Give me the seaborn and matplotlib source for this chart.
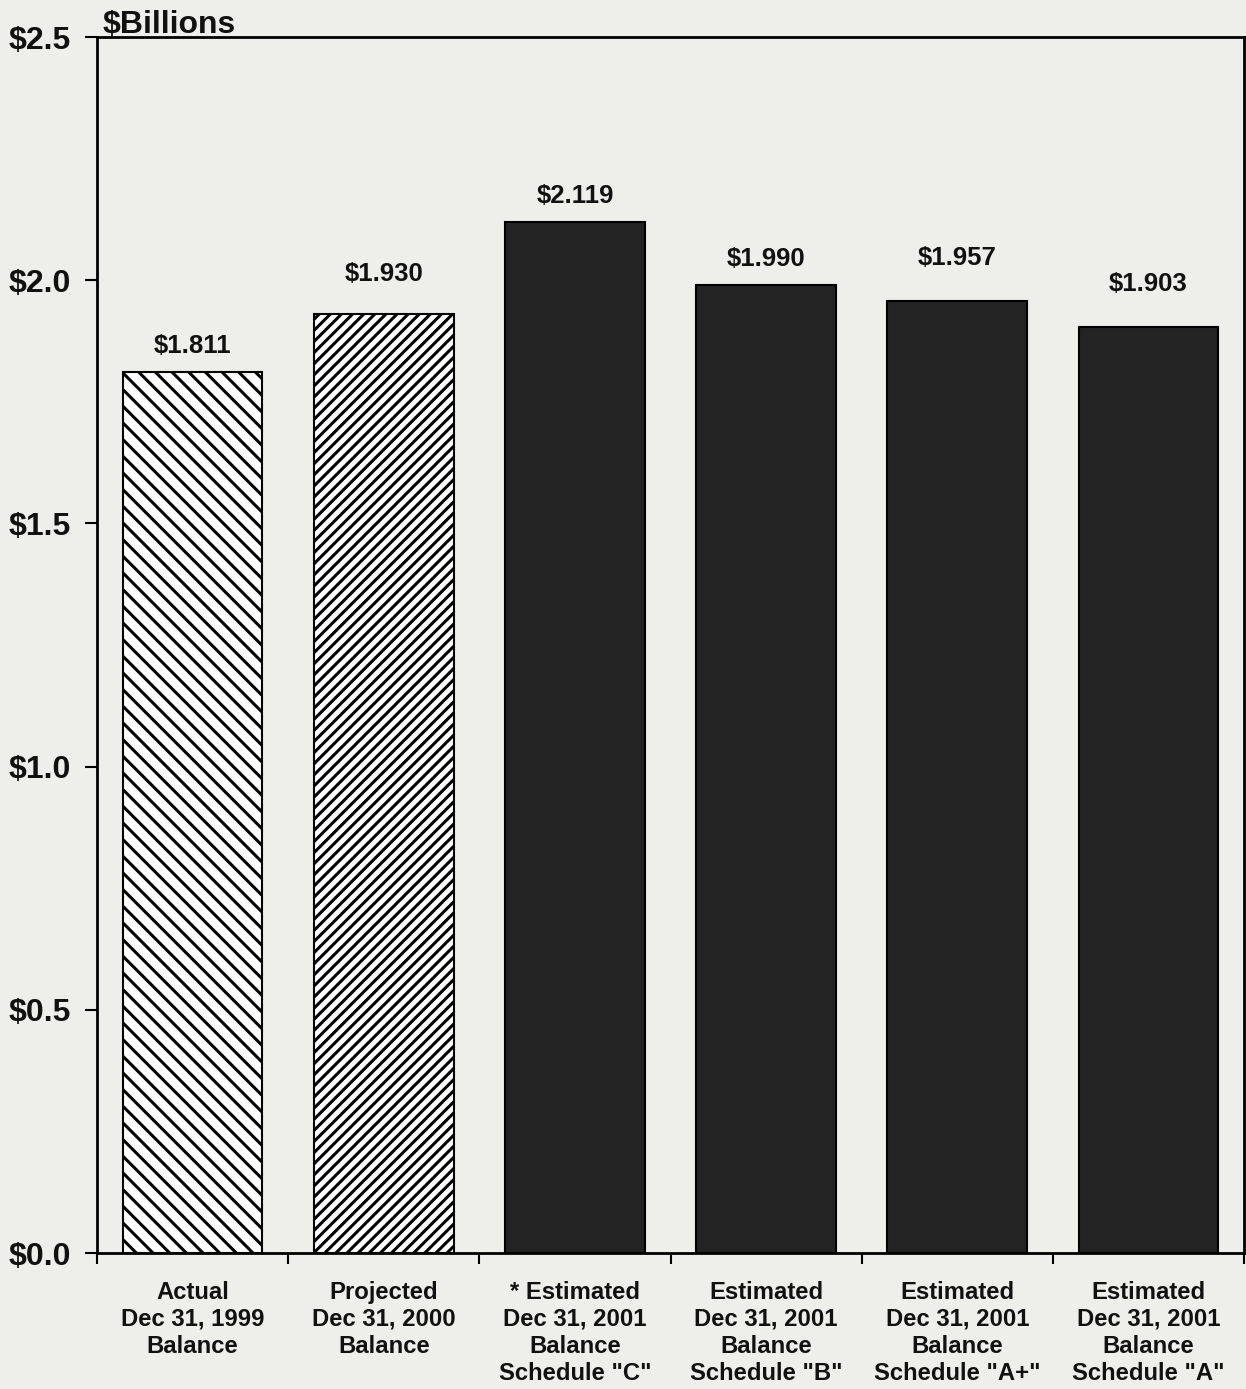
import matplotlib
matplotlib.use("Agg")
import matplotlib.pyplot as plt
import seaborn as sns
import pandas as pd

# ---- data ----
categories = [
    "Actual\nDec 31, 1999\nBalance",
    "Projected\nDec 31, 2000\nBalance",
    "* Estimated\nDec 31, 2001\nBalance\nSchedule \"C\"",
    "Estimated\nDec 31, 2001\nBalance\nSchedule \"B\"",
    "Estimated\nDec 31, 2001\nBalance\nSchedule \"A+\"",
    "Estimated\nDec 31, 2001\nBalance\nSchedule \"A\"",
]
values = [1.811, 1.930, 2.119, 1.990, 1.957, 1.903]
value_labels = ["$1.811", "$1.930", "$2.119", "$1.990", "$1.957", "$1.903"]
yticks = [0.0, 0.5, 1.0, 1.5, 2.0, 2.5]
ytick_labels = ["$0.0", "$0.5", "$1.0", "$1.5", "$2.0", "$2.5"]

# ---- style ----
bg = "#eeeeea"
bar_dark = "#232323"
fills = ["white", "white", bar_dark, bar_dark, bar_dark, bar_dark]
hatches = ["\\\\", "///", None, None, None, None]
label_offsets = [19, 29, 19, 19, 31, 31]  # points above bar top (label centre)

sns.set_theme(style="white")
plt.rcParams["font.family"] = ["Liberation Sans", "DejaVu Sans"]
plt.rcParams["hatch.linewidth"] = 2.2
plt.rcParams["hatch.color"] = "black"

fig = plt.figure(figsize=(12.46, 13.89), dpi=100, facecolor=bg)
ax = fig.add_axes([97 / 1246, 1 - 1253 / 1389, (1244 - 97) / 1246, (1253 - 37) / 1389])
ax.set_facecolor(bg)

df = pd.DataFrame({"cat": categories, "val": values})
sns.barplot(data=df, x="cat", y="val", ax=ax, width=0.73, color=bar_dark,
            edgecolor="black", linewidth=1.5, saturation=1)

for patch, fc, h in zip(ax.patches, fills, hatches):
    patch.set_facecolor(fc)
    if h:
        patch.set_hatch(h)

for i, (v, lab, off) in enumerate(zip(values, value_labels, label_offsets)):
    ax.annotate(lab, xy=(i, v), xytext=(0, off), textcoords="offset points",
                ha="center", va="center", fontsize=18.5, fontweight="bold",
                color="#111111")

ax.set_ylim(0, 2.5)
ax.set_xlim(-0.5, 5.5)
ax.set_yticks(yticks)
ax.set_yticklabels(ytick_labels, fontsize=23, fontweight="bold", color="#111111")
ax.set_xticks(range(len(categories)))
ax.set_xticklabels(categories, fontsize=17.2, fontweight="bold", color="#111111",
                   linespacing=1.22)
ax.set_xticks([i - 0.5 for i in range(len(categories) + 1)], minor=True)
ax.tick_params(axis="x", which="major", length=0, pad=20)
ax.tick_params(axis="x", which="minor", length=8, width=1.5, color="black",
               direction="out", bottom=True)
ax.tick_params(axis="y", length=9, width=1.5, color="black", direction="out",
               left=True, pad=10)
ax.set_xlabel("")
ax.set_ylabel("")

for s in ax.spines.values():
    s.set_visible(True)
    s.set_color("black")
    s.set_linewidth(2)

ax.text(0.005, 1.003, "$Billions", transform=ax.transAxes, ha="left", va="baseline",
        fontsize=23, fontweight="bold", color="#111111")

fig.savefig("out.png", dpi=100, facecolor=bg)
